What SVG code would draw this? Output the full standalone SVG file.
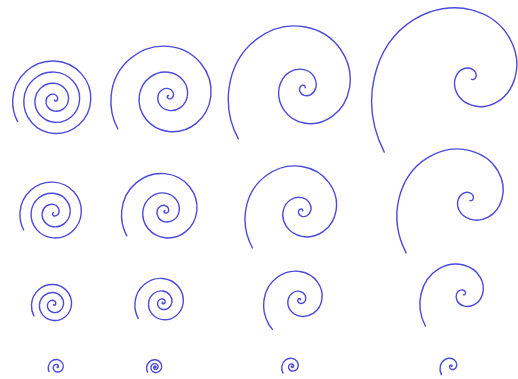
<svg xmlns="http://www.w3.org/2000/svg" xmlns:xlink="http://www.w3.org/1999/xlink" width="518" height="379" viewBox="0 0 518 379">
<style>
.sp{fill:none;stroke:#4a4adc;stroke-linecap:round;stroke-linejoin:round}
</style>
<defs>
<path id="c2" d="M -88.32 57.35 C -97.89 39.29 -101.76 19.33 -100 0 C -94.98 -55.23 -47.62 -90.88 0 -86.22 C 47.62 -81.56 77.78 -40.58 73.47 0 C 69.17 40.58 34.09 65.68 0 61.73 C -34.09 57.78 -54.61 28.18 -51.02 0 C -47.43 -28.18 -22.83 -44.56 0 -41.33 C 22.83 -38.10 35.52 -18.03 32.65 0 C 29.78 18.03 13.81 27.51 0 25 C -13.81 22.49 -20.52 10.14 -18.37 0 C -16.22 -10.14 -7.05 -14.55 0 -12.76 C 7.05 -10.97 9.60 -4.51 8.16 0 C 6.72 4.51 2.54 5.67 0 4.59 C -2.54 3.51 -2.76 1.13 -2.04 0 C -1.32 -1.13 -0.28 -0.87 0 -0.51"/>
<path id="c3" d="M -87.68 66.07 C -99.32 44.99 -103.19 21.72 -100 0 C -91.89 -55.23 -43.44 -85.56 0 -78.65 C 43.44 -71.74 66.39 -33.46 60.58 0 C 54.77 33.46 25.14 50.32 0 45.52 C -25.14 40.72 -37.07 18.33 -33.18 0 C -29.29 -18.33 -12.87 -26.37 0 -23.30 C 12.87 -20.23 17.96 -8.62 15.61 0 C 13.26 8.62 5.43 11.56 0 9.83 C -5.43 8.10 -6.89 3.14 -5.69 0 C -4.49 -3.14 -1.61 -3.68 0 -2.91 C 1.61 -2.14 1.66 -0.68 1.23 0"/>
<path id="c4" d="M -89.75 75.32 C -102.76 50.28 -105.44 23.51 -100 0 C -87.21 -55.23 -37.72 -77.91 0 -68.30 C 37.72 -58.69 51.81 -24.75 44.81 0 C 37.81 24.75 15.45 32.90 0 27.98 C -15.45 23.06 -19.70 9.06 -16.40 0 C -13.10 -9.06 -4.89 -10.93 0 -8.85 C 4.89 -6.77 5.47 -2.36 4.27 0 C 3.07 2.36 0.97 2.37 0 1.75"/>
</defs>
<rect width="518" height="379" fill="#ffffff"/>
<g id="spiral-r1c1" class="sp" stroke-width="1.4" transform="translate(54.5 100)">
<path d="M -37.00 21.37 C -40.48 14.72 -42.11 7.34 -41.80 0 C -40.82 -23.09 -21.55 -39.99 0 -39.01 C 21.55 -38.03 37.21 -20.01 36.23 0 C 35.25 20.01 18.47 34.42 0 33.44 C -18.47 32.46 -31.63 16.93 -30.65 0 C -29.67 -16.93 -15.39 -28.85 0 -27.87 C 15.39 -26.89 26.06 -13.85 25.08 0 C 24.10 13.85 12.31 23.27 0 22.29 C -12.31 21.31 -20.49 10.78 -19.51 0 C -18.53 -10.78 -9.23 -17.70 0 -16.72 C 9.23 -15.74 14.91 -7.69 13.93 0 C 12.95 7.69 6.16 12.13 0 11.15 C -6.16 10.17 -9.34 4.62 -8.36 0 C -7.38 -4.62 -3.08 -6.55 0 -5.57 C 3.08 -4.59 3.77 -1.54 2.79 0 C 1.81 1.54 0 0.98 0 0"/>
</g>
<g id="spiral-r2c1" class="sp" stroke-width="1.4" transform="translate(53.4 212.8)">
<path d="M -29.76 17.19 C -32.51 11.81 -33.75 5.87 -33.44 0 C -32.46 -18.47 -16.93 -31.63 0 -30.65 C 16.93 -29.67 28.85 -15.39 27.87 0 C 26.89 15.39 13.85 26.06 0 25.08 C -13.85 24.10 -23.27 12.31 -22.29 0 C -21.31 -12.31 -10.78 -20.49 0 -19.51 C 10.78 -18.53 17.70 -9.23 16.72 0 C 15.74 9.23 7.69 14.91 0 13.93 C -7.69 12.95 -12.13 6.16 -11.15 0 C -10.17 -6.16 -4.62 -9.34 0 -8.36 C 4.62 -7.38 6.55 -3.08 5.57 0 C 4.59 3.08 1.54 3.77 0 2.79 C -1.54 1.81 -0.98 0 0 0"/>
</g>
<g id="spiral-r3c1" class="sp" stroke-width="1.4" transform="translate(53.5 304.5)">
<path d="M -19.63 11.33 C -21.43 7.77 -22.22 3.86 -22 0 C -21.30 -12.15 -11.05 -20.70 0 -20 C 11.05 -19.30 18.70 -9.94 18 0 C 17.30 9.94 8.84 16.70 0 16 C -8.84 15.30 -14.70 7.73 -14 0 C -13.30 -7.73 -6.63 -12.70 0 -12 C 6.63 -11.30 10.70 -5.52 10 0 C 9.30 5.52 4.42 8.70 0 8 C -4.42 7.30 -6.70 3.31 -6 0 C -5.30 -3.31 -2.21 -4.70 0 -4 C 2.21 -3.30 2.70 -1.10 2 0 C 1.30 1.10 0 0.70 0 0"/>
</g>
<g id="spiral-r4c1" class="sp" stroke-width="1.4" transform="translate(57 367)">
<path d="M -7.94 4.58 C -8.62 3.12 -8.89 1.54 -8.75 0 C -8.31 -4.83 -4.14 -7.94 0 -7.5 C 4.14 -7.06 6.69 -3.45 6.25 0 C 5.81 3.45 2.76 5.44 0 5 C -2.76 4.56 -4.19 2.07 -3.75 0 C -3.31 -2.07 -1.38 -2.94 0 -2.5 C 1.38 -2.06 1.69 -0.69 1.25 0 C 0.81 0.69 0 0.44 0 0"/>
</g>
<g id="spiral-r1c2" class="sp"><use xlink:href="#c2" href="#c2" transform="translate(168.6 96) scale(0.575)" stroke-width="2.435"/></g>
<g id="spiral-r2c2" class="sp"><use xlink:href="#c2" href="#c2" transform="translate(165 211) scale(0.433)" stroke-width="3.233"/></g>
<g id="spiral-r3c2" class="sp"><use xlink:href="#c2" href="#c2" transform="translate(162.8 302.5) scale(0.278)" stroke-width="5.036"/></g>
<g id="spiral-r4c2" class="sp"><use xlink:href="#c2" href="#c2" transform="translate(155.3 367.2) scale(0.0865)" stroke-width="16.18"/></g>
<g id="spiral-r1c3" class="sp"><use xlink:href="#c3" href="#c3" transform="translate(304.1 87.7) scale(0.75 0.775)" stroke-width="1.837"/></g>
<g id="spiral-r2c3" class="sp"><use xlink:href="#c3" href="#c3" transform="translate(301.9 210.8) scale(0.563)" stroke-width="2.487"/></g>
<g id="spiral-r3c3" class="sp" transform="translate(300 299.8) scale(0.36)" stroke-width="3.889"><use xlink:href="#c3" href="#c3"/><path d="M -76.75 82.31 C -80.91 77.17 -84.56 71.72 -87.68 66.07"/></g>
<g id="spiral-r4c3" class="sp"><use xlink:href="#c3" href="#c3" transform="translate(292 366.4) scale(0.102)" stroke-width="13.73"/></g>
<g id="spiral-r1c4" class="sp"><use xlink:href="#c4" href="#c4" transform="translate(471.5 77.5) scale(0.972 0.99)" stroke-width="1.43"/></g>
<g id="spiral-r2c4" class="sp"><use xlink:href="#c4" href="#c4" transform="translate(470 199.2) scale(0.712)" stroke-width="1.966"/></g>
<g id="spiral-r3c4" class="sp"><use xlink:href="#c4" href="#c4" transform="translate(463.5 294) scale(0.425)" stroke-width="3.294"/></g>
<g id="spiral-r4c4" class="sp"><use xlink:href="#c4" href="#c4" transform="translate(451.5 366.2) scale(0.112)" stroke-width="12.5"/></g>
</svg>
